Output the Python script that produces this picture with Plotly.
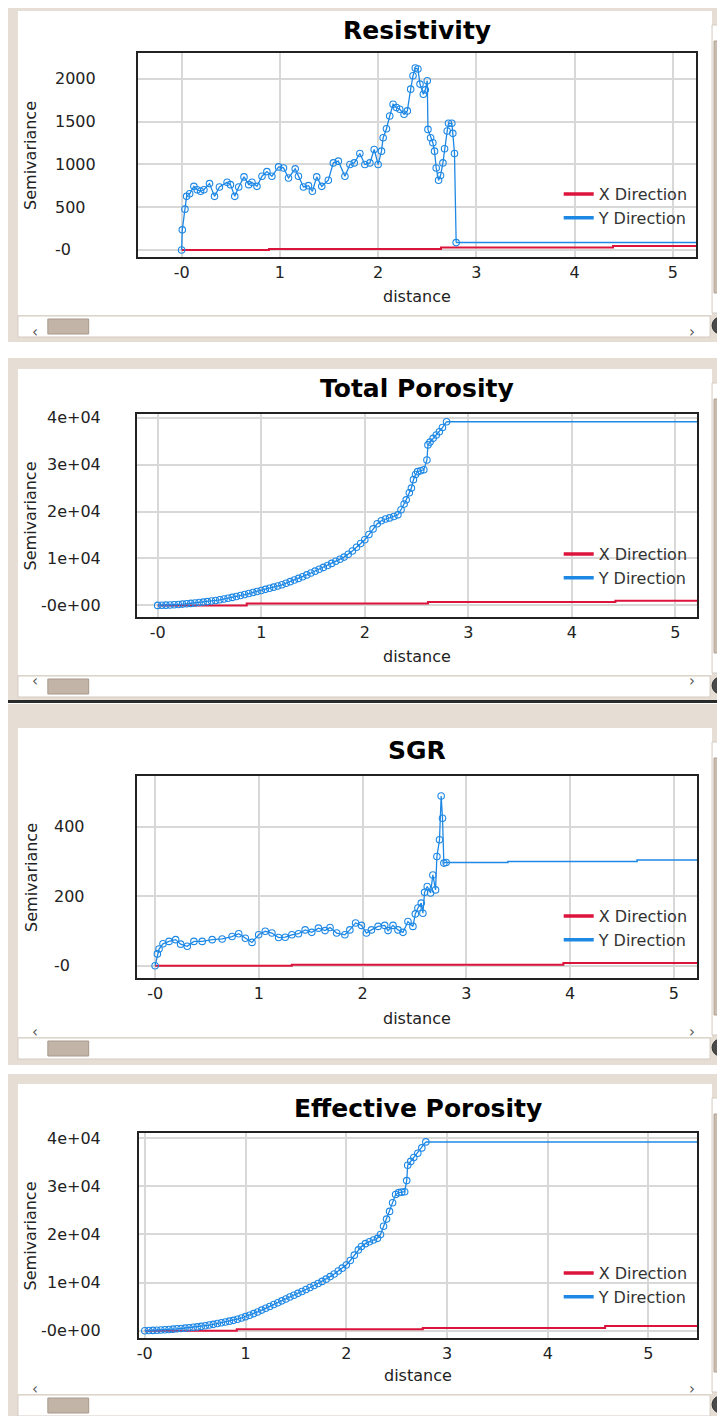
import plotly.graph_objects as go

# page body has an 8px margin: the figure is offset by OFF px, so positions
# are given in screen pixels and converted to figure fractions.
OFF = 8
W, H = 717, 1408
RED = '#DC143C'
BLUE = '#1E88E5'
FONT = 'DejaVu Sans'

# ---------------- data ----------------
dist_ticks = [0, 1, 2, 3, 4, 5]
dist_ticktext = ['-0', '1', '2', '3', '4', '5']

# Resistivity
res_dist = [0.000, 0.007, 0.034, 0.051, 0.082, 0.125, 0.159, 0.193, 0.227, 0.284,
            0.335, 0.385, 0.463, 0.497, 0.541, 0.581, 0.635, 0.683, 0.716, 0.767,
            0.818, 0.868, 0.919, 0.987, 1.037, 1.088, 1.156, 1.189, 1.240, 1.291,
            1.331, 1.375, 1.426, 1.493, 1.544, 1.595, 1.662, 1.713, 1.757, 1.814,
            1.865, 1.916, 1.960, 2.000, 2.034, 2.051, 2.085, 2.118, 2.152, 2.186,
            2.220, 2.264, 2.297, 2.331, 2.355, 2.378, 2.405, 2.426, 2.460, 2.480,
            2.500, 2.507, 2.534, 2.557, 2.574, 2.591, 2.615, 2.635, 2.659, 2.676,
            2.703, 2.716, 2.750, 2.760, 2.777, 2.794]
res_y = [0, 235, 477, 626, 657, 743, 704, 685, 704, 775,
         626, 736, 790, 763, 626, 736, 853, 763, 790, 743,
         861, 915, 861, 970, 958, 841, 947, 861, 736, 751,
         685, 853, 743, 814, 1017, 1037, 861, 998, 1017, 1127,
         998, 1017, 1174, 998, 1154, 1311, 1416, 1565, 1702, 1663,
         1643, 1585, 1624, 1878, 2034, 2124, 2113, 1937, 1819, 1870,
         1976, 1408, 1311, 1252, 1154, 958, 814, 869, 1017, 1182,
         1389, 1479, 1479, 1362, 1127, 86]
res_tail_dist = [2.794, 5.6]
res_tail = [86, 90]
res_xdir_dist = [0, 0.889, 2.64, 4.39, 5.6]
res_xdir = [0, 10, 28, 47, 47]
res_ticks = [0, 500, 1000, 1500, 2000]
res_ticktext = ['-0', '500', '1000', '1500', '2000']

# Total Porosity
tp_dist = [0.00, 0.04, 0.08, 0.12, 0.16, 0.20, 0.24, 0.28, 0.32, 0.36,
           0.40, 0.44, 0.48, 0.52, 0.56, 0.60, 0.64, 0.68, 0.72, 0.76,
           0.80, 0.84, 0.88, 0.92, 0.96, 1.00, 1.04, 1.08, 1.12, 1.16,
           1.20, 1.24, 1.28, 1.32, 1.36, 1.40, 1.44, 1.48, 1.52, 1.56,
           1.60, 1.64, 1.68, 1.72, 1.76, 1.80, 1.84, 1.88, 1.92, 1.96,
           2.00, 2.04, 2.08, 2.12, 2.16, 2.20, 2.24, 2.28, 2.32, 2.35,
           2.38, 2.40, 2.43, 2.45, 2.47, 2.49, 2.51, 2.54, 2.57, 2.60,
           2.61, 2.63, 2.66, 2.69, 2.72, 2.75, 2.79]
tp_y = [0, 25, 55, 95, 145, 205, 275, 350, 430, 515,
        605, 700, 810, 930, 1060, 1200, 1360, 1530, 1710, 1900,
        2100, 2310, 2530, 2750, 2970, 3190, 3420, 3650, 3890, 4140,
        4400, 4730, 5060, 5400, 5760, 6120, 6500, 6900, 7300, 7700,
        8100, 8520, 8950, 9400, 9850, 10300, 10900, 11600, 12400, 13200,
        14000, 15100, 16300, 17400, 18050, 18400, 18650, 18950, 19300, 20400,
        21600, 22500, 24000, 25000, 26800, 27900, 28500, 28700, 28900, 31000,
        34200, 34800, 35600, 36300, 37000, 37900, 39150]
tp_tail_dist = [2.79, 5.6]
tp_tail = [39150, 39100]
tp_xdir_dist = [0, 0.86, 2.61, 4.42, 5.6]
tp_xdir = [0, 420, 720, 1000, 1000]
por_ticks = [0, 10000, 20000, 30000, 40000]
por_ticktext = ['-0e+00', '1e+04', '2e+04', '3e+04', '4e+04']

# SGR
sgr_dist = [0.000, 0.022, 0.038, 0.076, 0.134, 0.198, 0.246, 0.310, 0.374, 0.454,
            0.550, 0.646, 0.742, 0.806, 0.870, 0.934, 0.998, 1.062, 1.126, 1.190,
            1.254, 1.318, 1.382, 1.446, 1.510, 1.574, 1.638, 1.686, 1.750, 1.829,
            1.877, 1.932, 1.989, 2.037, 2.085, 2.149, 2.213, 2.245, 2.293, 2.341,
            2.389, 2.437, 2.485, 2.508, 2.533, 2.565, 2.581, 2.597, 2.623, 2.655,
            2.677, 2.703, 2.716, 2.741, 2.757, 2.770, 2.783, 2.805]
sgr_y = [0, 34, 48, 63, 70, 75, 62, 56, 70, 70,
         75, 77, 84, 92, 79, 67, 89, 99, 94, 81,
         82, 89, 92, 103, 96, 108, 101, 110, 94, 89,
         103, 123, 116, 94, 103, 113, 116, 101, 116, 103,
         96, 127, 113, 149, 166, 180, 151, 211, 228, 209,
         261, 218, 314, 362, 488, 424, 295, 297]
sgr_tail_dist = [2.805, 3.40, 4.645, 5.6]
sgr_tail = [297, 300, 304, 304]
sgr_xdir_dist = [0, 1.318, 3.935, 5.6]
sgr_xdir = [0, 3, 8, 8]
sgr_ticks = [0, 200, 400]
sgr_ticktext = ['-0', '200', '400']

# Effective Porosity
eff_dist = [0.00, 0.04, 0.08, 0.12, 0.16, 0.20, 0.24, 0.28, 0.32, 0.36,
            0.40, 0.44, 0.48, 0.52, 0.56, 0.60, 0.64, 0.68, 0.72, 0.76,
            0.80, 0.84, 0.88, 0.92, 0.96, 1.00, 1.04, 1.08, 1.12, 1.16,
            1.20, 1.24, 1.28, 1.32, 1.36, 1.40, 1.44, 1.48, 1.52, 1.56,
            1.60, 1.64, 1.68, 1.72, 1.76, 1.80, 1.84, 1.88, 1.92, 1.96,
            2.00, 2.04, 2.08, 2.12, 2.15, 2.19, 2.23, 2.27, 2.31, 2.34,
            2.37, 2.40, 2.43, 2.46, 2.49, 2.52, 2.55, 2.58, 2.60, 2.61,
            2.64, 2.67, 2.71, 2.75, 2.79]
eff_y = [0, 30, 60, 100, 150, 200, 260, 320, 390, 460,
         540, 620, 700, 790, 900, 1030, 1170, 1320, 1480, 1640,
         1810, 1980, 2150, 2380, 2640, 2920, 3220, 3550, 3900, 4280,
         4660, 5040, 5430, 5810, 6200, 6600, 7000, 7380, 7760, 8150,
         8560, 8980, 9400, 9820, 10250, 10720, 11250, 11800, 12400, 13000,
         13650, 14600, 15700, 16800, 17500, 18100, 18500, 18850, 19200, 20000,
         21700, 23200, 24800, 26600, 28300, 28700, 28800, 28900, 31200, 34400,
         35200, 36000, 36900, 38000, 39250]
eff_tail_dist = [2.79, 5.6]
eff_tail = [39250, 39250]
eff_xdir_dist = [0, 0.913, 2.76, 4.57, 5.6]
eff_xdir = [0, 290, 560, 1000, 1000]

# ---------------- layout helpers ----------------
def fx(p):
    return (p - OFF) / W

def fy(p):
    return 1 - (p - OFF) / H

panels = [
    dict(title='Resistivity', d=res_dist, v=res_y, td=res_tail_dist, tv=res_tail,
         xd=res_xdir_dist, xv=res_xdir, ytv=res_ticks, ytt=res_ticktext,
         box=(136, 696, 53, 257), xr=(-0.439, 5.236), yr=(-82, 2300),
         title_y=30, dist_y=296, lab_x=50, lab_anchor='left', leg=(558, 177)),
    dict(title='Total Porosity', d=tp_dist, v=tp_y, td=tp_tail_dist, tv=tp_tail,
         xd=tp_xdir_dist, xv=tp_xdir, ytv=por_ticks, ytt=por_ticktext,
         box=(135, 697, 414, 617), xr=(-0.195, 5.209), yr=(-2470, 40790),
         title_y=389, dist_y=656, lab_x=100, lab_anchor='right', leg=(558, 537)),
    dict(title='SGR', d=sgr_dist, v=sgr_y, td=sgr_tail_dist, tv=sgr_tail,
         xd=sgr_xdir_dist, xv=sgr_xdir, ytv=sgr_ticks, ytt=sgr_ticktext,
         box=(135, 697, 776, 978), xr=(-0.17, 5.224), yr=(-35.3, 545.5),
         title_y=750, dist_y=1018, lab_x=49, lab_anchor='left', leg=(558, 899)),
    dict(title='Effective Porosity', d=eff_dist, v=eff_y, td=eff_tail_dist, tv=eff_tail,
         xd=eff_xdir_dist, xv=eff_xdir, ytv=por_ticks, ytt=por_ticktext,
         box=(137, 697, 1133, 1338), xr=(-0.053, 5.483), yr=(-1520, 41100),
         title_y=1108, dist_y=1375, lab_x=100, lab_anchor='right', leg=(558, 1256)),
]

# GUI chrome: (top, inner_top, hscroll_top, hscroll_bottom, bottom)
chrome = [
    (0, 11, 315, 337, 342),
    (358, 369, 675, 697, 700),
    (704, 728, 1037, 1059, 1065),
    (1074, 1084, 1394, 1416, 1416),
]

BEIGE = '#E6DED4'
shapes = []
annotations = []

def rect(x0, y0, x1, y1, fill, line=None, lw=0):
    shapes.append(dict(type='rect', xref='paper', yref='paper',
                       x0=fx(x0), x1=fx(x1), y0=fy(y1), y1=fy(y0),
                       fillcolor=fill, line=dict(color=line or fill, width=lw),
                       layer='below'))

for (top, itop, hs0, hs1, bot) in chrome:
    rect(0, top, 730, bot, BEIGE)
    rect(15, itop, 712, hs0, 'white')
    # horizontal scrollbar
    rect(15, hs0 + 1, 710, hs1, 'white', '#D4CBC1', 1)
    rect(45, hs0 + 4, 86, hs1 - 3, '#C2B4A6', '#A8998B', 1)
    mid = (hs0 + hs1) / 2 - 5
    annotations.append(dict(x=fx(27), y=fy(mid), xref='paper', yref='paper',
                            text='‹', showarrow=False, font=dict(family=FONT, size=15, color='#555')))
    annotations.append(dict(x=fx(697), y=fy(mid), xref='paper', yref='paper',
                            text='›', showarrow=False, font=dict(family=FONT, size=15, color='#555')))
    # vertical scrollbar
    rect(712, itop + 14, 728, hs0 - 2, 'white', '#D4CBC1', 1)
    rect(714, itop + 30, 728, hs0 - 22, '#C9BDB0', '#B0A294', 1)
    # corner knob
    shapes.append(dict(type='circle', xref='paper', yref='paper',
                       x0=fx(712), x1=fx(729), y0=fy(hs0 + 19), y1=fy(hs0 + 2),
                       fillcolor='#4A4A4A', line=dict(color='#333', width=1), layer='below'))

# dark separator under second panel
rect(0, 700, 730, 703, '#2A2A2A')

fig = go.Figure()
layout = {}

for i, p in enumerate(panels):
    n = '' if i == 0 else str(i + 1)
    xa, ya = 'x' + n, 'y' + n
    leg = 'legend' + n
    x0, x1, y0, y1 = p['box']

    fig.add_trace(go.Scatter(x=p['xd'], y=p['xv'], xaxis=xa, yaxis=ya, mode='lines',
                             line=dict(color=RED, width=2, shape='hv'),
                             showlegend=False, hoverinfo='skip'))
    fig.add_trace(go.Scatter(x=p['td'], y=p['tv'], xaxis=xa, yaxis=ya, mode='lines',
                             line=dict(color=BLUE, width=1.5, shape='hv'),
                             showlegend=False, hoverinfo='skip'))
    fig.add_trace(go.Scatter(x=p['d'], y=p['v'], xaxis=xa, yaxis=ya, mode='lines+markers',
                             line=dict(color=BLUE, width=1.3),
                             marker=dict(symbol='circle-open', size=6.5, color=BLUE,
                                         line=dict(width=1.1, color=BLUE)),
                             showlegend=False))
    # legend entries
    fig.add_trace(go.Scatter(x=[None], y=[None], xaxis=xa, yaxis=ya, mode='lines',
                             line=dict(color=RED, width=3.5), name='X Direction', legend=leg))
    fig.add_trace(go.Scatter(x=[None], y=[None], xaxis=xa, yaxis=ya, mode='lines',
                             line=dict(color=BLUE, width=3.5), name='Y Direction', legend=leg))

    layout['xaxis' + n] = dict(domain=[fx(x0), fx(x1)], anchor=ya, range=list(p['xr']),
                               tickvals=dist_ticks, ticktext=dist_ticktext,
                               showgrid=True, gridcolor='#D8D8D8', gridwidth=1.5,
                               zeroline=False, showline=True, mirror=True,
                               linecolor='#222', linewidth=1.5, ticks='',
                               tickfont=dict(family=FONT, size=16, color='#222'),
                               ticklabelstandoff=0)
    layout['yaxis' + n] = dict(domain=[fy(y1), fy(y0)], anchor=xa, range=list(p['yr']),
                               tickvals=p['ytv'], showticklabels=False,
                               showgrid=True, gridcolor='#D8D8D8', gridwidth=1.5,
                               zeroline=False, showline=True, mirror=True,
                               linecolor='#222', linewidth=1.5, ticks='')
    layout[leg] = dict(x=fx(p['leg'][0]), y=fy(p['leg'][1]), xref='paper', yref='paper',
                       xanchor='left', yanchor='top', bgcolor='rgba(0,0,0,0)',
                       borderwidth=0, itemwidth=30, tracegroupgap=0,
                       font=dict(family=FONT, size=16, color='#333'))

    cx = (x0 + x1) / 2
    annotations.append(dict(x=fx(cx), y=fy(p['title_y']), xref='paper', yref='paper',
                            text='<b>' + p['title'] + '</b>', showarrow=False,
                            xanchor='center', yanchor='middle',
                            font=dict(family=FONT, size=25, color='black')))
    annotations.append(dict(x=fx(cx), y=fy(p['dist_y']), xref='paper', yref='paper',
                            text='distance', showarrow=False, xanchor='center', yanchor='middle',
                            font=dict(family=FONT, size=16, color='#222')))
    annotations.append(dict(x=fx(28), y=fy((y0 + y1) / 2), xref='paper', yref='paper',
                            text='Semivariance', showarrow=False, textangle=-90,
                            xanchor='center', yanchor='middle',
                            font=dict(family=FONT, size=16, color='#222')))
    for tv, tt in zip(p['ytv'], p['ytt']):
        annotations.append(dict(x=fx(p['lab_x']), y=tv, xref='paper', yref=ya,
                                text=tt, showarrow=False, xanchor=p['lab_anchor'],
                                yanchor='middle',
                                font=dict(family=FONT, size=16, color='#222')))

fig.update_layout(width=W, height=H, margin=dict(l=0, r=0, t=0, b=0),
                  paper_bgcolor='white', plot_bgcolor='rgba(0,0,0,0)',
                  shapes=shapes, annotations=annotations, **layout)

fig.write_html('out.html')
